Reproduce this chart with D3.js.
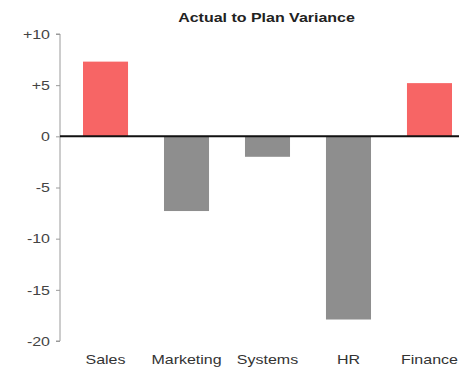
<!DOCTYPE html>
<html>
<head>
<meta charset="utf-8">
<script src="https://cdn.jsdelivr.net/npm/d3@7"></script>
<style>
  html, body { margin: 0; padding: 0; background: #fff; }
  svg { display: block; }
</style>
</head>
<body>
<svg id="chart" width="459" height="371"></svg>
<script>
// Actual-to-plan variance by department
const departments = ["Sales", "Marketing", "Systems", "HR", "Finance"];
const variance = [7.3, -7.3, -2.0, -17.9, 5.2];
const tickValues = [10, 5, 0, -5, -10, -15, -20];
const tickLabels = ["+10", "+5", "0", "-5", "-10", "-15", "-20"];

const svg = d3.select("#chart");
const font = "'Liberation Sans', Arial, sans-serif";
const stretch = 1.23; // wide horizontal text proportion

// Widen a text element horizontally around its own anchor point
function widen(sel) {
  sel.each(function () {
    const t = d3.select(this);
    const tx = +t.attr("x") || 0;
    const ty = +t.attr("y") || 0;
    t.attr("x", 0).attr("y", 0)
     .attr("transform", `translate(${tx},${ty}) scale(${stretch},1)`);
  });
}

const x = d3.scaleBand()
  .domain(departments)
  .range([60, 475])
  .paddingInner(0.444)
  .paddingOuter(0.284);

const y = d3.scaleLinear()
  .domain([-20, 10])
  .range([341, 34]);

// Title
svg.append("text")
  .attr("x", 266.5)
  .attr("y", 22)
  .attr("text-anchor", "middle")
  .attr("font-family", font)
  .attr("font-weight", "bold")
  .attr("font-size", 13)
  .attr("fill", "#222")
  .text("Actual to Plan Variance")
  .call(widen);

// Bars
svg.append("g")
  .selectAll("rect")
  .data(departments.map((d, i) => ({ d, v: variance[i] })))
  .join("rect")
  .attr("x", o => x(o.d))
  .attr("width", x.bandwidth())
  .attr("y", o => y(Math.max(0, o.v)))
  .attr("height", o => Math.abs(y(o.v) - y(0)))
  .attr("fill", o => o.v >= 0 ? "#f76565" : "#8e8e8e");

// Value axis
const yAxis = d3.axisLeft(y)
  .tickValues(tickValues)
  .tickFormat((d, i) => tickLabels[i])
  .tickSize(4)
  .tickPadding(6);

const ya = svg.append("g")
  .attr("transform", "translate(60,0)")
  .call(yAxis);
ya.select(".domain").attr("stroke", "#9a9a9a").attr("d", `M-4,${y(10)}H0V${y(-20)}H-4`);
ya.selectAll(".tick line").attr("stroke", "#9a9a9a");
ya.selectAll(".tick text")
  .attr("font-family", font)
  .attr("font-size", 13)
  .attr("fill", "#444")
  .call(widen);

// Zero baseline
svg.append("line")
  .attr("x1", 60)
  .attr("x2", 459)
  .attr("y1", y(0))
  .attr("y2", y(0))
  .attr("stroke", "#111")
  .attr("stroke-width", 2);

// Category labels
const xAxis = d3.axisBottom(x).tickSize(0).tickPadding(0);
const xa = svg.append("g")
  .attr("transform", "translate(0,364)")
  .call(xAxis);
xa.select(".domain").remove();
xa.selectAll(".tick text")
  .attr("dy", 0)
  .attr("font-family", font)
  .attr("font-size", 13)
  .attr("fill", "#333")
  .call(widen);
</script>
</body>
</html>
